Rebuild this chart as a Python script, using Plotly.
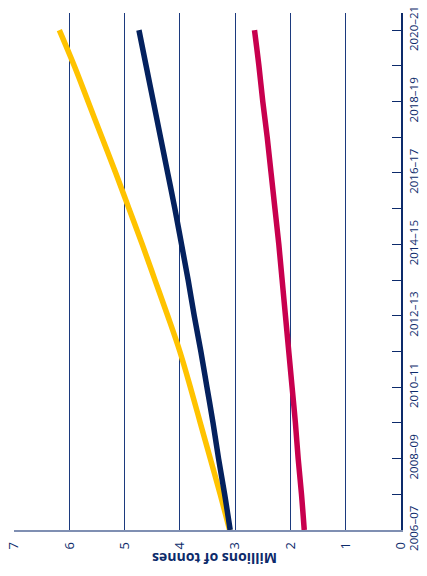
import plotly.graph_objects as go

years = ["2006–07", "2007–08", "2008–09", "2009–10", "2010–11", "2011–12", "2012–13",
         "2013–14", "2014–15", "2015–16", "2016–17", "2017–18", "2018–19", "2019–20", "2020–21"]
year_labels = [y if i % 2 == 0 else "" for i, y in enumerate(years)]

yellow_series = [3.10, 3.27, 3.45, 3.63, 3.81, 4.00, 4.22, 4.45, 4.68, 4.92, 5.16, 5.41, 5.66, 5.91, 6.18]
navy_series = [3.09, 3.19, 3.30, 3.40, 3.51, 3.62, 3.74, 3.85, 3.97, 4.09, 4.22, 4.35, 4.48, 4.61, 4.74]
red_series = [1.75, 1.80, 1.86, 1.91, 1.97, 2.03, 2.09, 2.15, 2.21, 2.28, 2.35, 2.42, 2.50, 2.57, 2.65]

value_ticks = [0, 1, 2, 3, 4, 5, 6, 7]

NAVY = "#0d2b6b"
FONT = "Open Sans"

fig = go.Figure()
for vals, col in [(yellow_series, "#FFC300"), (navy_series, "#04215e"), (red_series, "#C8004E")]:
    fig.add_trace(go.Scatter(x=vals, y=years, mode="lines",
                             line=dict(color=col, width=5.5, shape="spline"),
                             hoverinfo="skip", showlegend=False))

fig.update_layout(
    width=419, height=560,
    margin=dict(l=6, r=26, t=5, b=38, autoexpand=False),
    paper_bgcolor="white", plot_bgcolor="white",
    font=dict(family=FONT, color=NAVY, size=12),
    xaxis=dict(range=[7, 0], tickvals=value_ticks, ticktext=[str(v) for v in value_ticks],
               tickangle=-90, showgrid=True, gridcolor="#1c3a7e", gridwidth=1,
               zeroline=False, showline=True, linecolor="#7f8fb2", linewidth=1.5,
               ticks="", tickfont=dict(size=13, color=NAVY, family=FONT), ticklabelstandoff=5,
               ticklabeloverflow="allow", automargin=False),
    yaxis=dict(type="category", categoryorder="array", categoryarray=years,
               range=[0, 14.48], side="right", tickvals=years, ticktext=year_labels,
               tickangle=-90, showgrid=False, zeroline=False, showline=True,
               linecolor=NAVY, linewidth=1.5, ticks="inside", ticklen=9, tickcolor=NAVY,
               tickwidth=1.2, tickfont=dict(size=11.5, color=NAVY, family=FONT),
               ticklabelstandoff=1, ticklabeloverflow="allow", automargin=False),
)

fig.add_annotation(text="<b>Millions of tonnes</b>", textangle=180,
                   xref="paper", yref="paper", x=0.5, y=0, xshift=7, yshift=-29,
                   xanchor="center", yanchor="middle", showarrow=False,
                   font=dict(size=14, color=NAVY, family=FONT))

fig.write_html("out.html")
